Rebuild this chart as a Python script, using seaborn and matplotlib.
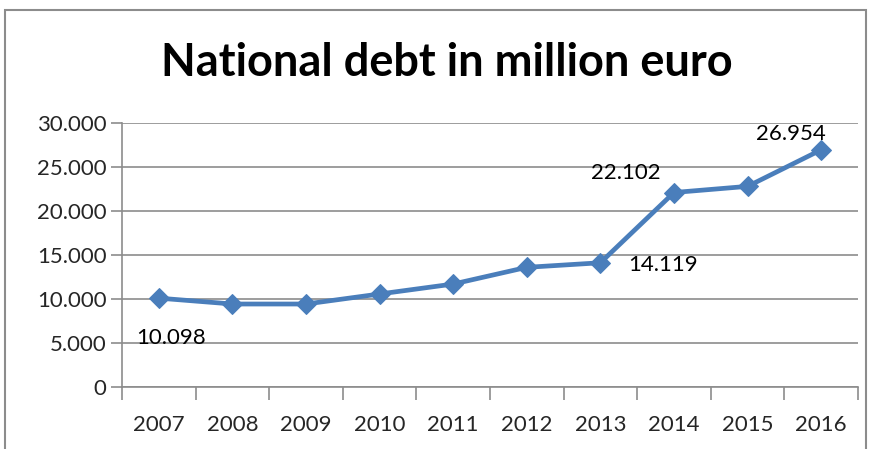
import matplotlib
matplotlib.use("Agg")
import matplotlib.pyplot as plt
import seaborn as sns
import pandas as pd
from matplotlib.ticker import FixedLocator, FuncFormatter
from matplotlib.patches import Rectangle

years = ["2007", "2008", "2009", "2010", "2011", "2012", "2013", "2014", "2015", "2016"]
debt = [10098, 9430, 9430, 10570, 11700, 13600, 14119, 22102, 22800, 26954]
label_years = ["2007", "2013", "2014", "2016"]
label_texts = ["10.098", "14.119", "22.102", "26.954"]
label_offsets_px = [(12, -40), (63, -2), (-48, 20), (-30, 16)]

sns.set_theme(style="white")
plt.rcParams['font.family'] = ['Lato', 'DejaVu Sans']

df = pd.DataFrame({"year": years, "debt": debt})
df["x"] = range(len(years))

fig = plt.figure(figsize=(8.73, 4.49), dpi=100)
ax = fig.add_axes([122/873, 62/449, (858-122)/873, (387-123)/449])

sns.lineplot(data=df, x="x", y="debt", ax=ax, color="#4A7EBB", linewidth=3.4,
             marker="D", markersize=10, markeredgecolor="#4A7EBB", zorder=3)

ax.set_xlim(-0.5, len(years) - 0.5)
ax.set_ylim(0, 30000)
ax.set_yticks(range(0, 30001, 5000))
ax.yaxis.set_major_formatter(FuncFormatter(lambda v, p: "0" if v == 0 else f"{int(v):,}".replace(",", ".")))
ax.grid(axis="y", color="#8C8C8C", linewidth=1.2)
ax.set_axisbelow(True)

ax.xaxis.set_major_locator(FixedLocator([i - 0.5 for i in range(len(years) + 1)]))
ax.xaxis.set_minor_locator(FixedLocator(list(range(len(years)))))
ax.set_xticklabels([""] * (len(years) + 1))
ax.set_xticklabels(years, minor=True)
ax.tick_params(axis="x", which="major", length=9, width=1.2, color="#8C8C8C", direction="out", bottom=True)
ax.tick_params(axis="x", which="minor", length=0, labelsize=16, pad=20, bottom=True)
ax.tick_params(axis="y", length=8, width=1.2, color="#8C8C8C", direction="out", labelsize=16, pad=3, left=True)

for s in ["top", "right"]:
    ax.spines[s].set_visible(False)
for s in ["left", "bottom"]:
    ax.spines[s].set_color("#8C8C8C")
    ax.spines[s].set_linewidth(1.2)
ax.set_xlabel("")
ax.set_ylabel("")

for yr, txt, (dx, dy) in zip(label_years, label_texts, label_offsets_px):
    i = years.index(yr)
    ax.annotate(txt, xy=(i, debt[i]), xytext=(dx * 72 / 100, dy * 72 / 100),
                textcoords="offset points", ha="center", va="center", fontsize=16, color="black")

fig.text(447/873, 1 - 63/449, "National debt in million euro", ha="center", va="center",
         fontsize=32.5, fontweight="bold", color="black")

fig.patches.append(Rectangle((5/873, -0.1), (866-5)/873, 1.1 - 10/449, transform=fig.transFigure,
                             fill=False, edgecolor="#8C8C8C", linewidth=1.5))

fig.savefig("out.png", dpi=100)
